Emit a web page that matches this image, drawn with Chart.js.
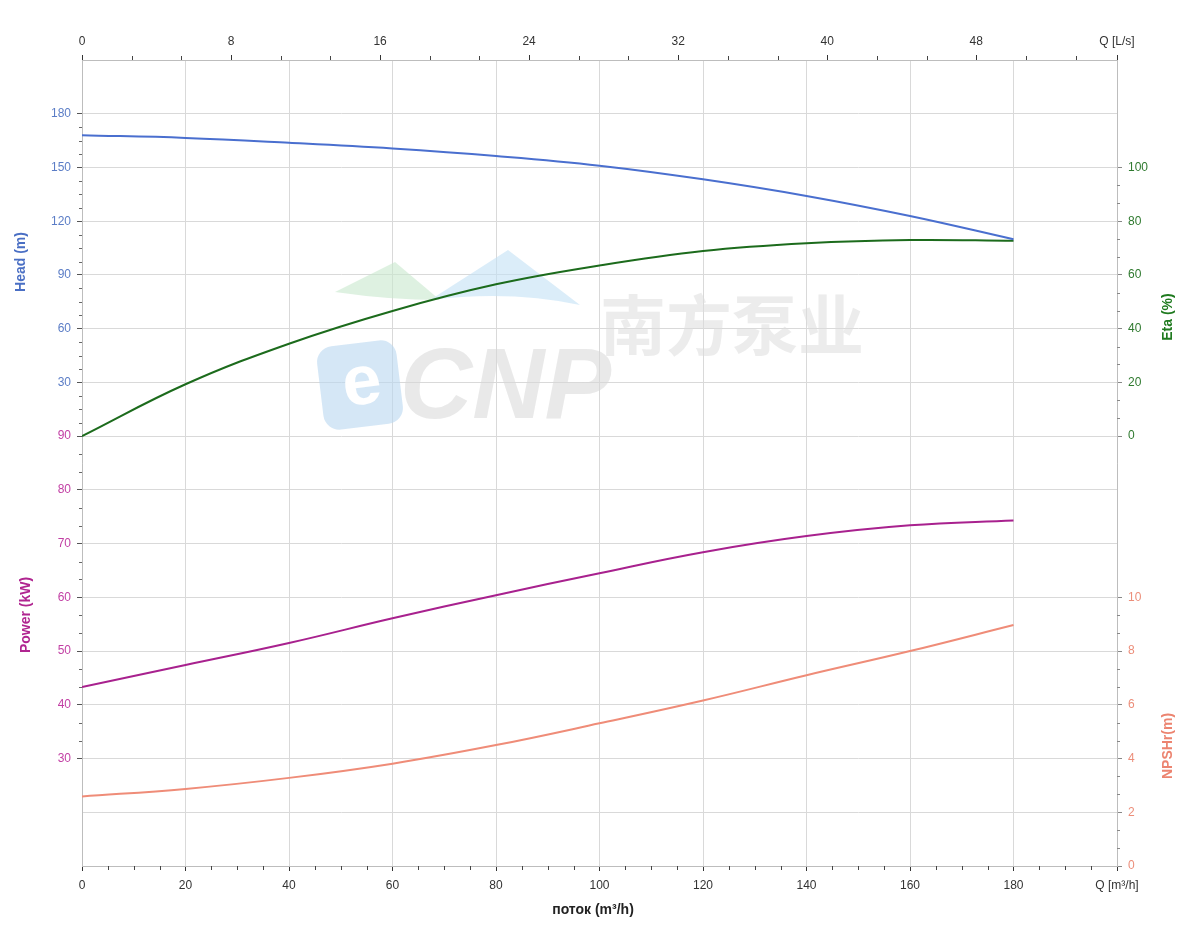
<!DOCTYPE html>
<html>
<head>
<meta charset="utf-8">
<script src="https://cdn.jsdelivr.net/npm/chart.js@4"></script>
<style>
  body { margin: 0; background: #fff; }
  canvas { display: block; }
</style>
</head>
<body>
<canvas id="pump" width="1200" height="950"></canvas>
<script>
// flow points, m3/h
const flow = [0, 20, 40, 60, 80, 100, 120, 140, 160, 180]
// curves
const head = [168.0, 166.5, 163.8, 160.6, 156.4, 151.0, 143.4, 134.1, 122.9, 109.9]
const eta = [0, 19.3, 34.4, 46.6, 56.5, 63.5, 68.9, 71.8, 73.0, 72.7]
const power = [43.3, 47.4, 51.5, 56.1, 60.4, 64.5, 68.4, 71.4, 73.4, 74.3]
const npsh = [2.59, 2.87, 3.28, 3.81, 4.5, 5.31, 6.16, 7.1, 8.0, 8.97]

// tick values
const flowTicks = [0, 20, 40, 60, 80, 100, 120, 140, 160, 180, 200]
const lpsTicks = [0, 8, 16, 24, 32, 40, 48, 200 / 3.6]
const headTicks = [-240, -210, -180, -150, -120, -90, -60, -30, 0, 30, 60, 90, 120, 150, 180, 210]
const etaTicks = [-160, -140, -120, -100, -80, -60, -40, -20, 0, 20, 40, 60, 80, 100, 120, 140]

const BLUE = '#4a6fcf'
const GREEN = '#1c6b1c'
const MAGENTA = '#a8218e'
const SALMON = '#ef8c78'
const FONT = 'Arial, "Liberation Sans", sans-serif'

const headLabel = (v) => (v >= 30 && v <= 180 ? String(v) : v <= 0 && v >= -180 ? String(90 + v / 3) : '')
const etaLabel = (v) => (v >= 0 && v <= 100 ? String(v) : v <= -60 ? String((v + 160) / 10) : '')

const toPts = (arr) => flow.map((q, i) => ({ x: q, y: arr[i] }))

const setTicks = (list) => (scale) => {
  scale.ticks = list.map((v) => ({ value: v }))
}

// small ticks between the labelled ones
const minorTicks = {
  id: 'minorTicks',
  afterDraw(chart) {
    const ctx = chart.ctx
    const a = chart.chartArea
    const s = chart.scales
    ctx.save()
    ctx.lineWidth = 1
    ctx.strokeStyle = '#444'
    ctx.beginPath()
    for (let v = 5; v < 200; v += 5) {
      if (v % 20 === 0) continue
      const x = Math.round(s.x.getPixelForValue(v)) + 0.5
      ctx.moveTo(x, a.bottom)
      ctx.lineTo(x, a.bottom + 4)
    }
    for (let k = 1; k * 8 / 3 < 200 / 3.6; k++) {
      if (k % 3 === 0) continue
      const x = Math.round(s.x2.getPixelForValue(k * 8 / 3)) + 0.5
      ctx.moveTo(x, a.top - 4)
      ctx.lineTo(x, a.top)
    }
    ctx.stroke()
    ctx.strokeStyle = '#666'
    ctx.beginPath()
    for (let v = 0; v < 180; v += 7.5) {
      if (v % 30 === 0) continue
      const y = Math.round(s.yHead.getPixelForValue(v)) + 0.5
      ctx.moveTo(a.left - 3, y)
      ctx.lineTo(a.left, y)
    }
    for (let k = 1; k < 18; k++) {
      if (k % 3 === 0) continue
      const y = Math.round(s.yPower.getPixelForValue(30 + k * 10 / 3)) + 0.5
      ctx.moveTo(a.left - 3, y)
      ctx.lineTo(a.left, y)
    }
    ctx.stroke()
    ctx.strokeStyle = '#888'
    ctx.beginPath()
    for (let k = 1; k < 15; k++) {
      if (k % 3 === 0) continue
      const y = Math.round(s.yEta.getPixelForValue(k * 20 / 3)) + 0.5
      ctx.moveTo(a.right, y)
      ctx.lineTo(a.right + 3, y)
    }
    for (let k = 1; k < 15; k++) {
      if (k % 3 === 0) continue
      const y = Math.round(s.yNpsh.getPixelForValue(k * 2 / 3)) + 0.5
      ctx.moveTo(a.right, y)
      ctx.lineTo(a.right + 3, y)
    }
    ctx.stroke()
    ctx.restore()
  },
}

// axis titles (two per side) and the bottom title
const axisTitles = {
  id: 'axisTitles',
  afterDraw(chart) {
    const ctx = chart.ctx
    const rot = (text, x, y, color) => {
      ctx.save()
      ctx.translate(x, y)
      ctx.rotate(-Math.PI / 2)
      ctx.fillStyle = color
      ctx.fillText(text, 0, 0)
      ctx.restore()
    }
    ctx.save()
    ctx.font = 'bold 14px ' + FONT
    ctx.textAlign = 'center'
    ctx.textBaseline = 'middle'
    rot('Head (m)', 21, 262, '#4a6fc4')
    rot('Power (kW)', 26, 615, '#b02590')
    rot('Eta (%)', 1168, 317, '#1f7a1f')
    rot('NPSHr(m)', 1168, 746, '#ec8470')
    ctx.fillStyle = '#222'
    ctx.fillText('поток (m³/h)', 593, 910)
    ctx.restore()
  },
}

// faint maker watermark behind the curves
const watermark = {
  id: 'watermark',
  beforeDatasetsDraw(chart) {
    const ctx = chart.ctx
    ctx.save()
    // roof shapes
    ctx.fillStyle = 'rgba(200, 232, 205, 0.6)'
    ctx.beginPath()
    ctx.moveTo(335, 292)
    ctx.lineTo(395, 262)
    ctx.lineTo(440, 300)
    ctx.quadraticCurveTo(390, 300, 335, 292)
    ctx.fill()
    ctx.fillStyle = 'rgba(195, 225, 245, 0.6)'
    ctx.beginPath()
    ctx.moveTo(430, 300)
    ctx.lineTo(508, 250)
    ctx.lineTo(580, 305)
    ctx.quadraticCurveTo(510, 290, 430, 300)
    ctx.fill()
    // logo box
    ctx.translate(360, 385)
    ctx.rotate(-0.12)
    ctx.fillStyle = 'rgba(185, 215, 240, 0.6)'
    ctx.beginPath()
    ctx.roundRect(-40, -42, 80, 84, 16)
    ctx.fill()
    ctx.fillStyle = '#fff'
    ctx.font = 'bold 70px ' + FONT
    ctx.textAlign = 'center'
    ctx.textBaseline = 'middle'
    ctx.fillText('e', 2, 0)
    ctx.restore()
    ctx.save()
    ctx.fillStyle = 'rgba(215, 215, 215, 0.55)'
    ctx.font = 'bold italic 100px ' + FONT
    ctx.fillText('CNP', 400, 418)
    ctx.font = 'bold 66px "Noto Sans CJK SC", sans-serif'
    ctx.fillStyle = 'rgba(220, 220, 220, 0.55)'
    ctx.fillText('南方泵业', 600, 350)
    ctx.restore()
  },
}

const onPageLoad = () => {
  const line = (label, arr, axis, color, width) => ({
    label: label,
    data: toPts(arr),
    yAxisID: axis,
    borderColor: color,
    borderWidth: width,
    pointRadius: 0,
    fill: false,
    tension: 0.4,
  })

  new Chart(document.getElementById('pump'), {
    type: 'line',
    data: {
      datasets: [
        line('Head', head, 'yHead', BLUE, 2),
        line('Eta', eta, 'yEta', GREEN, 2),
        line('Power', power, 'yPower', MAGENTA, 2),
        line('NPSHr', npsh, 'yNpsh', SALMON, 2),
      ],
    },
    options: {
      responsive: false,
      animation: false,
      layout: { padding: 0 },
      plugins: { legend: { display: false }, tooltip: { enabled: false } },
      scales: {
        x: {
          type: 'linear',
          position: 'bottom',
          min: 0,
          max: 200,
          afterBuildTicks: setTicks(flowTicks),
          afterFit: (s) => { s.height = 84 },
          border: { color: '#bdbdbd' },
          grid: { color: '#d9d9d9', tickColor: '#333', tickLength: 5 },
          ticks: {
            autoSkip: false,
            maxRotation: 0,
            padding: 7,
            color: '#333',
            font: { family: FONT, size: 12 },
            callback: (v) => (v === 200 ? 'Q [m³/h]' : String(v)),
          },
        },
        x2: {
          type: 'linear',
          position: 'top',
          min: 0,
          max: 200 / 3.6,
          afterBuildTicks: setTicks(lpsTicks),
          afterFit: (s) => { s.height = 60 },
          border: { color: '#bdbdbd' },
          grid: { drawOnChartArea: false, tickColor: '#333', tickLength: 5 },
          ticks: {
            autoSkip: false,
            maxRotation: 0,
            padding: 6,
            color: '#333',
            font: { family: FONT, size: 12 },
            callback: (v) => (v > 50 ? 'Q [L/s]' : String(v)),
          },
        },
        yHead: {
          type: 'linear',
          position: 'left',
          min: -240,
          max: 210,
          afterBuildTicks: setTicks(headTicks),
          afterFit: (s) => { s.width = 82 },
          border: { color: '#bdbdbd' },
          grid: {
            color: '#d9d9d9',
            tickLength: 5,
            tickColor: (c) => (headLabel(c.tick.value) ? '#555' : 'rgba(0,0,0,0)'),
          },
          ticks: {
            autoSkip: false,
            padding: 6,
            font: { family: FONT, size: 12 },
            color: (c) => (c.tick.value > 0 ? '#5b7dc6' : '#c23fa4'),
            callback: (v) => headLabel(v),
          },
        },
        yPower: { type: 'linear', display: false, min: 10, max: 160 },
        yEta: {
          type: 'linear',
          position: 'right',
          min: -160,
          max: 140,
          afterBuildTicks: setTicks(etaTicks),
          afterFit: (s) => { s.width = 83 },
          border: { color: '#bdbdbd' },
          grid: {
            drawOnChartArea: false,
            tickLength: 5,
            tickColor: (c) => (etaLabel(c.tick.value) ? '#888' : 'rgba(0,0,0,0)'),
          },
          ticks: {
            autoSkip: false,
            padding: 6,
            font: { family: FONT, size: 12 },
            color: (c) => (c.tick.value >= 0 ? '#2f7a2f' : '#ec8e7a'),
            callback: (v) => etaLabel(v),
          },
        },
        yNpsh: { type: 'linear', display: false, min: 0, max: 30 },
      },
    },
    plugins: [watermark, minorTicks, axisTitles],
  })
}

document.addEventListener('DOMContentLoaded', onPageLoad)
</script>
</body>
</html>
